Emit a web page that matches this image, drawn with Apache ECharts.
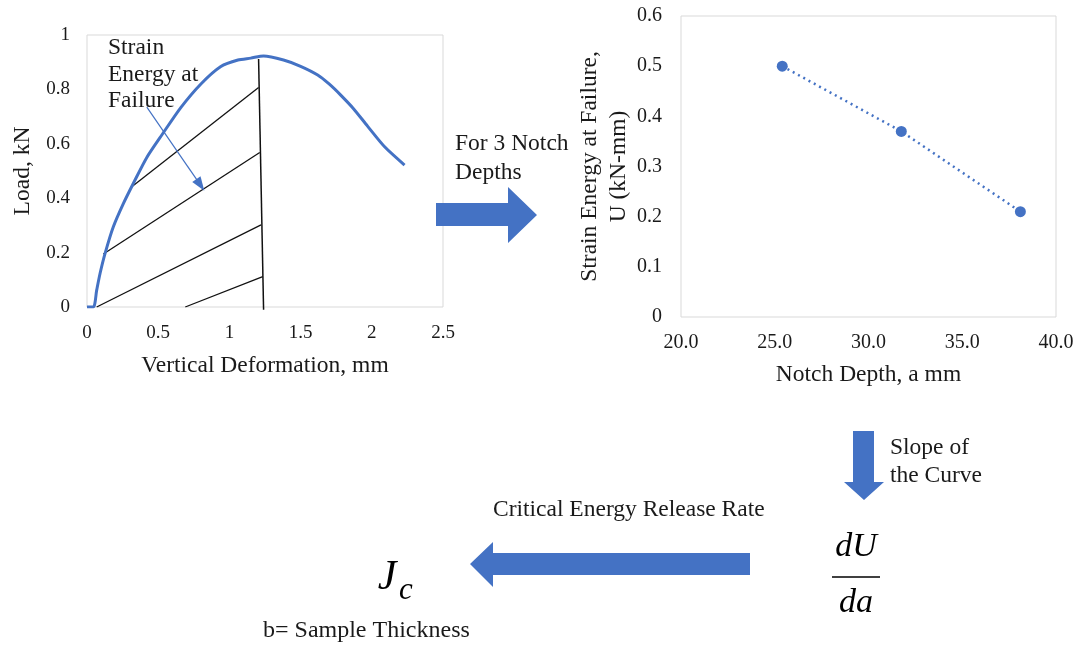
<!DOCTYPE html>
<html>
<head>
<meta charset="utf-8">
<script src="https://cdn.jsdelivr.net/npm/echarts@6/dist/echarts.min.js"></script>
<style>
  html, body { margin: 0; padding: 0; background: #fff; }
  #chart { width: 1083px; height: 647px; }
</style>
</head>
<body>
<div id="chart"></div>
<script>
// Load–deformation curve (mm, kN)
const deformation = [0, 0.045, 0.068, 0.092, 0.127, 0.185, 0.256, 0.326, 0.42, 0.53, 0.66, 0.80, 0.94, 1.06, 1.15, 1.24, 1.38, 1.50, 1.62, 1.70, 1.78, 1.87, 1.97, 2.09, 2.23];
const load        = [0, 0, 0.062, 0.124, 0.197, 0.295, 0.381, 0.455, 0.55, 0.636, 0.734, 0.82, 0.884, 0.908, 0.915, 0.923, 0.908, 0.885, 0.853, 0.82, 0.78, 0.73, 0.665, 0.589, 0.522];

// Hatching lines of the strain-energy area, [start, end] in (mm, kN)
const hatchStart = [[0.31, 0.44], [0.115, 0.195], [0.068, 0.0], [0.69, 0.0]];
const hatchEnd   = [[1.205, 0.807], [1.213, 0.568], [1.222, 0.302], [1.234, 0.112]];
// Unloading line at failure
const failureLine = [[1.205, 0.912], [1.24, -0.01]];
// Leader arrow from the annotation text into the area
const leaderArrow = [[0.42, 0.735], [0.796, 0.449]];

// Strain energy at failure vs notch depth
const notchDepth = [25.4, 31.75, 38.1];
const strainEnergy = [0.50, 0.37, 0.21];

const BLUE = '#4472C4';
const FONT = 'Liberation Serif';
const TXT = '#1a1a1a';

const chart = echarts.init(document.getElementById('chart'), null, { renderer: 'canvas' });

const hatchSeries = hatchStart.map((s, i) => ({
  type: 'line',
  xAxisIndex: 0, yAxisIndex: 0,
  data: [s, hatchEnd[i]],
  symbol: 'none',
  silent: true,
  lineStyle: { color: '#111', width: 1.3 },
  z: 3
}));

const axisCommon = {
  axisLine: { show: false },
  axisTick: { show: false },
  splitLine: { show: false }
};

const option = {
  backgroundColor: '#fff',
  animation: false,
  grid: [
    { left: 87, top: 35, width: 356, height: 272, show: true, borderColor: '#d9d9d9', borderWidth: 1 },
    { left: 681, top: 16, width: 375, height: 301, show: true, borderColor: '#d9d9d9', borderWidth: 1 }
  ],
  xAxis: [
    Object.assign({
      type: 'value', gridIndex: 0, min: 0, max: 2.5, interval: 0.5,
      name: 'Vertical Deformation, mm', nameLocation: 'middle', nameGap: 47,
      nameTextStyle: { fontFamily: FONT, fontSize: 23.5, color: TXT },
      axisLabel: { fontFamily: FONT, fontSize: 19, color: TXT, margin: 17 }
    }, axisCommon),
    Object.assign({
      type: 'value', gridIndex: 1, min: 20, max: 40, interval: 5,
      name: 'Notch Depth, a mm', nameLocation: 'middle', nameGap: 46,
      nameTextStyle: { fontFamily: FONT, fontSize: 23.5, color: TXT },
      axisLabel: { fontFamily: FONT, fontSize: 20, color: TXT, margin: 16, formatter: v => v.toFixed(1) }
    }, axisCommon)
  ],
  yAxis: [
    Object.assign({
      type: 'value', gridIndex: 0, min: 0, max: 1, interval: 0.2,
      name: 'Load, kN', nameLocation: 'middle', nameGap: 52, nameRotate: 90,
      nameTextStyle: { fontFamily: FONT, fontSize: 23.5, color: TXT },
      axisLabel: { fontFamily: FONT, fontSize: 19, color: TXT, margin: 17 }
    }, axisCommon),
    Object.assign({
      type: 'value', gridIndex: 1, min: 0, max: 0.6, interval: 0.1,
      name: 'Strain Energy at Failure,\nU (kN-mm)', nameLocation: 'middle', nameGap: 43, nameRotate: 90,
      nameTextStyle: { fontFamily: FONT, fontSize: 23.5, color: TXT, lineHeight: 29 },
      axisLabel: { fontFamily: FONT, fontSize: 20, color: TXT, margin: 19 }
    }, axisCommon)
  ],
  series: [
    {
      type: 'line',
      xAxisIndex: 0, yAxisIndex: 0,
      data: deformation.map((d, i) => [d, load[i]]),
      smooth: 0.25,
      symbol: 'none',
      lineStyle: { color: BLUE, width: 3 },
      z: 4
    },
    ...hatchSeries,
    {
      type: 'line',
      xAxisIndex: 0, yAxisIndex: 0,
      data: failureLine,
      symbol: 'none',
      clip: false,
      silent: true,
      lineStyle: { color: '#111', width: 1.5 },
      z: 3
    },
    {
      type: 'line',
      xAxisIndex: 0, yAxisIndex: 0,
      data: [],
      silent: true,
      markLine: {
        silent: true,
        symbol: ['none', 'triangle'],
        symbolSize: [10, 14],
        label: { show: false },
        lineStyle: { color: BLUE, width: 1.2, type: 'solid' },
        data: [[{ coord: leaderArrow[0] }, { coord: leaderArrow[1] }]]
      },
      z: 5
    },
    {
      type: 'line',
      xAxisIndex: 1, yAxisIndex: 1,
      data: notchDepth.map((d, i) => [d, strainEnergy[i]]),
      symbol: 'circle',
      symbolSize: 11,
      itemStyle: { color: BLUE },
      lineStyle: { color: BLUE, width: 2.5, type: [2, 4] },
      z: 4
    }
  ],
  graphic: [
    // annotation inside the load–deformation plot
    {
      type: 'text', left: 108, top: 35, z: 10,
      style: { text: 'Strain\nEnergy at\nFailure', fontFamily: FONT, fontSize: 23.5, lineHeight: 26.5, fill: TXT }
    },
    // right arrow
    {
      type: 'polygon', z: 10,
      shape: { points: [[436, 203], [508, 203], [508, 187], [537, 215], [508, 243], [508, 226], [436, 226]] },
      style: { fill: BLUE }
    },
    {
      type: 'text', left: 455, top: 129, z: 10,
      style: { text: 'For 3 Notch\nDepths', fontFamily: FONT, fontSize: 23.5, lineHeight: 29, fill: TXT }
    },
    // down arrow
    {
      type: 'polygon', z: 10,
      shape: { points: [[853, 431], [874, 431], [874, 482], [884, 482], [864, 500], [844, 482], [853, 482]] },
      style: { fill: BLUE }
    },
    {
      type: 'text', left: 890, top: 434, z: 10,
      style: { text: 'Slope of\nthe Curve', fontFamily: FONT, fontSize: 23.5, lineHeight: 28, fill: TXT }
    },
    // derivative dU/da
    {
      type: 'text', x: 856, y: 547, z: 10,
      style: { text: 'dU', fontFamily: FONT, fontStyle: 'italic', fontSize: 34, fill: '#000', align: 'center', verticalAlign: 'middle' }
    },
    {
      type: 'line', z: 10,
      shape: { x1: 832, y1: 577, x2: 880, y2: 577 },
      style: { stroke: '#000', lineWidth: 1.5 }
    },
    {
      type: 'text', x: 856, y: 603, z: 10,
      style: { text: 'da', fontFamily: FONT, fontStyle: 'italic', fontSize: 34, fill: '#000', align: 'center', verticalAlign: 'middle' }
    },
    // left arrow
    {
      type: 'polygon', z: 10,
      shape: { points: [[750, 553], [493, 553], [493, 542], [470, 564], [493, 587], [493, 575], [750, 575]] },
      style: { fill: BLUE }
    },
    {
      type: 'text', left: 493, top: 498, z: 10,
      style: { text: 'Critical Energy Release Rate', fontFamily: FONT, fontSize: 23.5, fill: TXT }
    },
    // J_c
    {
      type: 'text', x: 387, y: 578, z: 10,
      style: { text: 'J', fontFamily: FONT, fontStyle: 'italic', fontSize: 42, fill: '#000', align: 'center', verticalAlign: 'middle' }
    },
    {
      type: 'text', x: 406, y: 591, z: 10,
      style: { text: 'c', fontFamily: FONT, fontStyle: 'italic', fontSize: 31, fill: '#000', align: 'center', verticalAlign: 'middle' }
    },
    {
      type: 'text', left: 263, top: 619, z: 10,
      style: { text: 'b= Sample Thickness', fontFamily: FONT, fontSize: 24, fill: TXT }
    }
  ]
};

chart.setOption(option);
</script>
</body>
</html>
